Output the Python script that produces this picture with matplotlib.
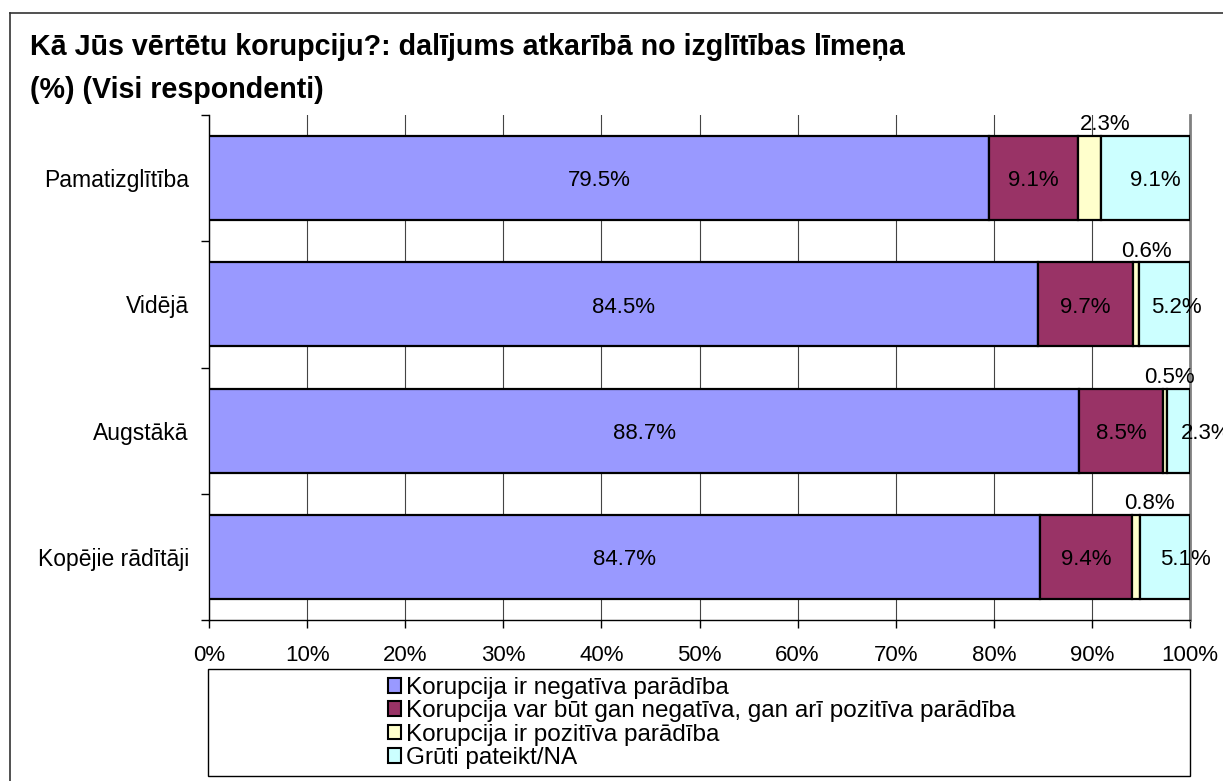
import matplotlib.pyplot as plt
from matplotlib.patches import Patch, Rectangle
from matplotlib.lines import Line2D
from matplotlib.ticker import FuncFormatter

plt.rcParams['font.family'] = ['Liberation Sans', 'DejaVu Sans']

categories = ['Pamatizglītība', 'Vidējā', 'Augstākā', 'Kopējie rādītāji']
series_names = [
    'Korupcija ir negatīva parādība',
    'Korupcija var būt gan negatīva, gan arī pozitīva parādība',
    'Korupcija ir pozitīva parādība',
    'Grūti pateikt/NA',
]
negative = [79.5, 84.5, 88.7, 84.7]
both = [9.1, 9.7, 8.5, 9.4]
positive = [2.3, 0.6, 0.5, 0.8]
hard_to_say = [9.1, 5.2, 2.3, 5.1]

colors = ['#9999FF', '#993366', '#FFFFCC', '#CCFFFF']

W, H = 1223, 781
fig = plt.figure(figsize=(W / 100, H / 100), dpi=100)

# axes placed like the excel plot area
ax = fig.add_axes([209 / W, 1 - 620 / H, 981 / W, 505 / H])

series = [negative, both, positive, hard_to_say]
y = list(range(len(categories)))
left = [0.0] * len(categories)
bars = []
for vals, col in zip(series, colors):
    b = ax.barh(y, vals, left=left, height=0.665, color=col,
                edgecolor='black', linewidth=1.6, zorder=3)
    bars.append(b)
    left = [l + v for l, v in zip(left, vals)]

# data labels (excel moved the small ones by hand)
yellow_dx = [16, 10, 4, 13]
cyan_dx = [10, 12, 27, 20]
for si, (b, vals) in enumerate(zip(bars, series)):
    for i, (rect, v) in enumerate(zip(b, vals)):
        cx = rect.get_x() + rect.get_width() / 2
        cy = rect.get_y() + rect.get_height() / 2
        txt = f'{v:.1f}%'
        if si == 2:
            ax.annotate(txt, (cx, rect.get_y()), xytext=(yellow_dx[i] * 0.72, 0.5),
                        textcoords='offset points', ha='center', va='bottom',
                        fontsize=16, zorder=5, annotation_clip=False)
        elif si == 3:
            ax.annotate(txt, (cx, cy), xytext=(cyan_dx[i] * 0.72, -2),
                        textcoords='offset points', ha='center', va='center',
                        fontsize=16, zorder=5, annotation_clip=False)
        else:
            ax.annotate(txt, (cx, cy), xytext=(0, -2), textcoords='offset points',
                        ha='center', va='center', fontsize=16, zorder=5)

ax.set_xlim(0, 100)
ax.set_ylim(len(categories) - 0.5, -0.5)
ax.set_xticks(range(0, 101, 10))
ax.xaxis.set_major_formatter(FuncFormatter(lambda v, p: f'{v:.0f}%'))
ax.set_yticks(y)
ax.set_yticklabels(categories)
ax.set_yticks([i - 0.5 for i in range(len(categories) + 1)], minor=True)
ax.tick_params(axis='y', which='major', length=0, pad=14.5, labelsize=16.5)
ax.tick_params(axis='y', which='minor', length=6, width=1, direction='out')
ax.tick_params(axis='x', which='major', length=6, width=1, direction='out',
               pad=12, labelsize=16)
ax.grid(axis='x', color='#444444', linewidth=0.8, zorder=0)
ax.set_axisbelow(True)

ax.spines['top'].set_visible(False)
ax.spines['right'].set_color('#808080')
ax.spines['right'].set_linewidth(2)
ax.spines['left'].set_linewidth(1)
ax.spines['bottom'].set_linewidth(1)

# title
fig.text(30 / W, 1 - 55 / H, 'Kā Jūs vērtētu korupciju?: dalījums atkarībā no izglītības līmeņa',
         fontsize=20.6, fontweight='bold', va='baseline', ha='left')
fig.text(30 / W, 1 - 98 / H, '(%) (Visi respondenti)',
         fontsize=20.6, fontweight='bold', va='baseline', ha='left')

# outer chart border (runs off right and bottom edges)
fig.add_artist(Line2D([10 / W, 10 / W], [1 - 13 / H, 0], color='#333333', linewidth=1.2))
fig.add_artist(Line2D([10 / W, 1], [1 - 13 / H, 1 - 13 / H], color='#333333', linewidth=1.2))

# legend box
fig.add_artist(Rectangle((208 / W, 1 - 776 / H), 982 / W, 107 / H, fill=False,
                         edgecolor='black', linewidth=1, transform=fig.transFigure))
handles = [Patch(facecolor=c, edgecolor='black', linewidth=1.5) for c in colors]
fig.legend(handles, series_names, loc='center left',
           bbox_to_anchor=(388 / W, 1 - 723 / H), frameon=False, fontsize=17.5,
           handlelength=0.55, handleheight=0.55, handletextpad=0.18,
           labelspacing=0.05, borderaxespad=0, borderpad=0)

fig.savefig('out.png', dpi=100)
